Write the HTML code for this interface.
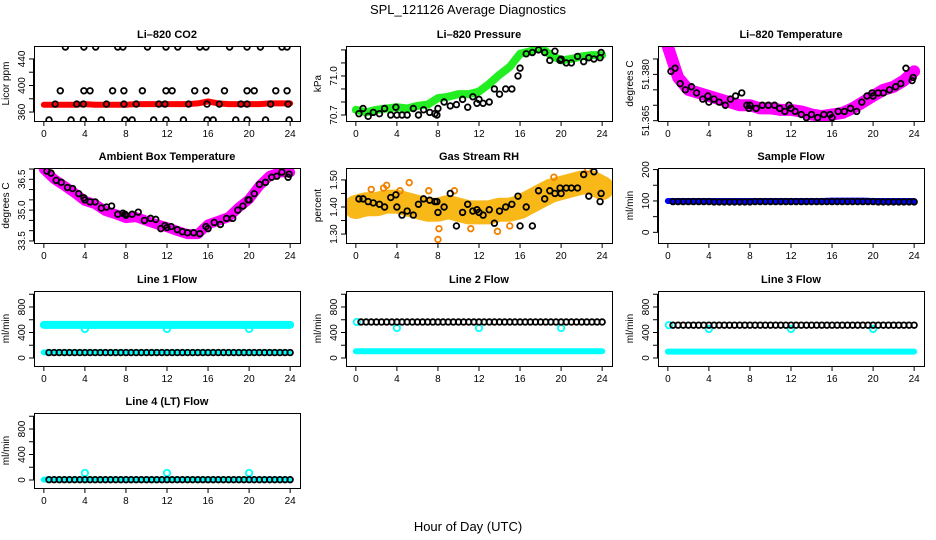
<!DOCTYPE html>
<html><head><meta charset="utf-8"><style>
html,body{margin:0;padding:0;background:#fff;}
svg{display:block;font-family:"Liberation Sans",sans-serif;}
</style></head><body>
<svg id="chart" width="936" height="540" viewBox="0 0 936 540" xmlns="http://www.w3.org/2000/svg">
<text x="468" y="14" text-anchor="middle" font-size="13">SPL_121126  Average Diagnostics</text>
<text x="468" y="531" text-anchor="middle" font-size="13">Hour of Day (UTC)</text>
</svg>
<script>
const hourly = [0,1,2,3,4,5,6,7,8,9,10,11,12,13,14,15,16,17,18,19,20,21,22,23,24];
const halfHours = [0.5,1,1.5,2,2.5,3,3.5,4,4.5,5,5.5,6,6.5,7,7.5,8,8.5,9,9.5,10,10.5,11,11.5,12,12.5,13,13.5,14,14.5,15,15.5,16,16.5,17,17.5,18,18.5,19,19.5,20,20.5,21,21.5,22,22.5,23,23.5,24];
const ptHours = [0.3,0.7,1.2,1.7,2.3,2.8,3.4,3.9,4.0,4.5,5.0,5.6,6.1,6.6,7.2,7.7,7.9,8.0,8.6,9.2,9.8,10.4,10.9,11.4,11.8,12.0,12.4,13.0,13.5,14.0,14.6,15.2,15.8,16.0,16.6,17.2,17.8,18.4,18.9,19.4,19.9,20.0,20.5,21.0,21.6,22.2,22.7,23.2,23.8,23.9];
const xTicks = [0,4,8,12,16,20,24];

const co2Band = [371,371,371,371,372,371,371,371,371,372,372,372,372,372,372,373,376,373,372,372,372,372,373,373,373];
const co2PtX = [2.1,3.9,5.05,7.2,7.7,10.1,11.9,13.05,15.2,15.8,18.1,19.8,21.1,23.2,23.7,
 1.6,3.9,4.5,6.7,7.8,9.6,11.9,12.5,14.7,15.8,17.6,19.8,20.5,22.6,23.7,
 1.1,3.2,3.85,6.1,7.8,9.0,11.2,11.8,14.1,15.9,17.1,19.2,19.8,22.1,23.8,
 0.5,2.65,3.85,5.6,7.9,8.6,10.7,11.9,13.6,15.9,16.5,18.7,19.8,21.6,23.9];
const co2PtY = [458,458,458,458,458,458,458,458,458,458,458,458,458,458,458,
 392,392,392,392,392,392,392,392,392,392,392,392,392,392,392,
 372,372,372,372,372,372,372,372,372,372,372,372,372,372,372,
 348,348,348,348,348,348,348,348,348,348,348,348,348,348,348];

const pressBand = [70.74,70.72,70.74,70.75,70.76,70.75,70.77,70.78,70.83,70.84,70.86,70.86,70.88,70.94,71.01,71.07,71.17,71.19,71.22,71.16,71.12,71.13,71.15,71.16,71.16];
const pressPts = [70.71,70.75,70.69,70.72,70.71,70.75,70.70,70.76,70.70,70.70,70.70,70.75,70.70,70.74,70.72,70.71,70.70,70.75,70.80,70.77,70.78,70.82,70.76,70.84,70.79,70.82,70.79,70.80,70.90,70.86,70.90,70.90,71.00,71.06,71.17,71.18,71.20,71.18,71.12,71.19,71.12,71.13,71.10,71.10,71.15,71.11,71.14,71.13,71.14,71.18];

const liTempBand = [51.389,51.379,51.375,51.374,51.373,51.372,51.371,51.370,51.370,51.369,51.369,51.3685,51.3685,51.368,51.367,51.3665,51.367,51.3675,51.369,51.371,51.373,51.375,51.376,51.378,51.381];
const liTempPts = [51.381,51.382,51.377,51.375,51.376,51.374,51.372,51.373,51.371,51.372,51.371,51.370,51.372,51.373,51.374,51.370,51.369,51.370,51.369,51.370,51.370,51.370,51.369,51.368,51.370,51.369,51.368,51.367,51.366,51.367,51.366,51.367,51.367,51.366,51.368,51.368,51.369,51.368,51.371,51.373,51.374,51.373,51.374,51.374,51.375,51.376,51.377,51.382,51.378,51.379];

const ambBand = [36.99,36.51,36.18,35.83,35.45,35.29,34.96,34.80,34.61,34.66,34.48,34.31,34.17,33.99,33.83,33.83,34.31,34.48,34.66,35.13,35.53,36.18,36.67,36.84,36.84];
const ambPts = [36.9,36.8,36.45,36.35,36.1,36.05,35.8,35.6,35.5,35.4,35.4,35.1,35.15,35.2,34.8,34.85,34.8,34.75,34.8,34.9,34.5,34.6,34.55,34.1,34.25,34.15,34.2,34.05,33.95,33.9,33.9,33.85,34.2,34.1,34.4,34.3,34.6,34.6,35.0,35.2,35.5,35.5,35.8,36.25,36.35,36.6,36.65,36.85,36.6,36.75];

const rhBand = [1.40,1.41,1.41,1.42,1.42,1.41,1.40,1.39,1.39,1.40,1.39,1.38,1.38,1.38,1.39,1.39,1.40,1.42,1.44,1.46,1.47,1.48,1.49,1.49,1.47];
const rhPts = [1.43,1.43,1.42,1.415,1.41,1.40,1.435,1.445,1.40,1.37,1.385,1.37,1.41,1.43,1.425,1.42,1.42,1.38,1.40,1.45,1.33,1.38,1.41,1.385,1.39,1.38,1.37,1.39,1.34,1.385,1.40,1.41,1.44,1.33,1.40,1.33,1.46,1.43,1.46,1.45,1.47,1.45,1.47,1.47,1.47,1.52,1.44,1.53,1.42,1.45];
const rhOutX = [1.5,3.0,5.2,8.0,8.1,9.6,13.8,7.1,2.7,19.3,22.6,4.3,15.0,11.2];
const rhOutY = [1.465,1.48,1.49,1.28,1.32,1.46,1.31,1.46,1.47,1.51,1.54,1.46,1.33,1.32];

const sampleBand = [100,100,100,100,100,100,100,100,100,100,100,100,100,100,100,100,101,101,101,101,100,100,100,100,100];
const samplePts = [98,98,98,98,98,98,98,98,97,97,97,97,97,97,97,97,98,98,98,98,98,98,98,98,98,98,98,98,98,98,98,98,98,98,98,98,98,98,98,98,97,97,97,97,97,97,97,97];

const dipHours = [4,12,20];
const line1Hi = [520,520,520,520,520,520,520,520,520,520,520,520,520,520,520,520,520,520,520,520,520,520,520,520,520];
const line1Lo = [88,88,88,88,88,88,88,88,88,88,88,88,88,88,88,88,88,88,88,88,88,88,88,88,88];
const line1Pts = [85,85,85,85,85,85,85,85,85,85,85,85,85,85,85,85,85,85,85,85,85,85,85,85,85,85,85,85,85,85,85,85,85,85,85,85,85,85,85,85,85,85,85,85,85,85,85,85];
const line1Dip = [455,455,455];
const line2Lo = [105,105,105,105,105,105,105,105,105,105,105,105,105,105,105,105,105,105,105,105,105,105,105,105,105];
const line2Pts = [565,565,565,565,565,565,565,565,565,565,565,565,565,565,565,565,565,565,565,565,565,565,565,565,565,565,565,565,565,565,565,565,565,565,565,565,565,565,565,565,565,565,565,565,565,565,565,565];
const line2Dip = [470,470,470];
const line3Lo = [100,100,100,100,100,100,100,100,100,100,100,100,100,100,100,100,100,100,100,100,100,100,100,100,100];
const line3Pts = [515,515,515,515,515,515,515,515,515,515,515,515,515,515,515,515,515,515,515,515,515,515,515,515,515,515,515,515,515,515,515,515,515,515,515,515,515,515,515,515,515,515,515,515,515,515,515,515];
const line3Dip = [455,455,455];
const line4Lo = [5,5,5,5,5,5,5,5,5,5,5,5,5,5,5,5,5,5,5,5,5,5,5,5,5];
const line4Pts = [5,5,5,5,5,5,5,5,5,5,5,5,5,5,5,5,5,5,5,5,5,5,5,5,5,5,5,5,5,5,5,5,5,5,5,5,5,5,5,5,5,5,5,5,5,5,5,5];
const line4Dip = [110,110,110];

const NS = 'http://www.w3.org/2000/svg';
const svg = document.getElementById('chart');
const colL = [34,346,658], rowT = [46,168,291,413], W = 266, H = 75;

function mk(tag, attrs, parent){
  const e = document.createElementNS(NS, tag);
  for (const k in attrs) e.setAttribute(k, attrs[k]);
  parent.appendChild(e);
  return e;
}

function panel(key, col, row, title, ylab, ymin, ymax, ticks, labels){
  const L = colL[col], T = rowT[row];
  const g = mk('g', {}, svg);
  
  
  const sx = h => L + (h + 0.96) / 25.92 * W;
  const sy = v => T + H - (v - ymin) / (ymax - ymin) * H;
  const t = mk('text', {x: L + W/2, y: T - 8, 'text-anchor':'middle', 'font-size':11, 'font-weight':'bold'}, g);
  t.textContent = title;
  
  
  const yl = mk('text', {transform:`translate(${L-25},${T+H/2}) rotate(-90)`, 'text-anchor':'middle', 'font-size':10}, g);
  yl.textContent = ylab;
  
  
  const xa = mk('g', {stroke:'#000', 'stroke-width':1}, g);
  
  
  mk('line', {x1:sx(0), x2:sx(24), y1:T+H+0.5, y2:T+H+0.5}, xa);
  xTicks.forEach(h => {
    mk('line', {x1:sx(h), x2:sx(h), y1:T+H, y2:T+H+5}, xa);
    const lb = mk('text', {x:sx(h), y:T+H+16, 'text-anchor':'middle', 'font-size':10, stroke:'none'}, xa);
    lb.textContent = h;
    
    
  });
  const ya = mk('g', {stroke:'#000', 'stroke-width':1}, g);
  
  
  mk('line', {x1:L-0.5, x2:L-0.5, y1:sy(ticks[0]), y2:sy(ticks[ticks.length-1])}, ya);
  ticks.forEach(v => mk('line', {x1:L-5, x2:L, y1:sy(v), y2:sy(v)}, ya));
  labels.forEach(([v, s]) => {
    const lb = mk('text', {transform:`translate(${L-9},${sy(v)}) rotate(-90)`, 'text-anchor':'middle', 'font-size':10, stroke:'none'}, ya);
    lb.textContent = s;
    
    
  });
  const clip = mk('clipPath', {id:'clip-' + key}, g);
  mk('rect', {x:L, y:T, width:W, height:H}, clip);
  const plot = mk('g', {'clip-path':`url(#clip-${key})`}, g);
  
  
  return {g, plot, sx, sy, L, T};
}

function band(p, xs, ys, color, width, name){
  const pts = xs.map((h, i) => p.sx(h) + ',' + p.sy(ys[i])).join(' ');
  const pl = mk('polyline', {points:pts, fill:'none', stroke:color, 'stroke-width':width, 'stroke-linejoin':'round', 'stroke-linecap':'round'}, p.plot);
  
  
}

function points(p, xs, ys, color, name, r){
  const gg = mk('g', {fill:'none', stroke:color, 'stroke-width':1.8}, p.plot);
  
  
  xs.forEach((h, i) => {
    if (ys[i] === undefined) return;
    const c = mk('circle', {cx:p.sx(h), cy:p.sy(ys[i]), r:r || 2.8}, gg);
    
    
  });
}

function box(p){
  const b = mk('rect', {x:p.L + 0.5, y:p.T + 0.5, width:W, height:H, fill:'none', stroke:'#000', 'stroke-width':1}, p.g);
  
  
}

let p = panel('li820-co2', 0, 0, 'Li\u2013820 CO2', 'Licor ppm', 346.5, 459.5, [360,380,400,420,440], [[360,'360'],[400,'400'],[440,'440']]);
band(p, hourly, co2Band, '#ff0000', 6, 'co2-series');
points(p, co2PtX, co2PtY, '#000', 'co2-average');
box(p);

p = panel('li820-pressure', 1, 0, 'Li\u2013820 Pressure', 'kPa', 70.654, 71.23, [70.7,70.8,70.9,71.0,71.1,71.2], [[70.7,'70.7'],[71.0,'71.0']]);
band(p, hourly, pressBand, '#22ee22', 8, 'pressure-series');
points(p, ptHours, pressPts, '#000', 'pressure-average');
box(p);

p = panel('li820-temperature', 2, 0, 'Li\u2013820 Temperature', 'degrees C', 51.3649, 51.3892, [51.365,51.370,51.375,51.380,51.385], [[51.365,'51.365'],[51.380,'51.380']]);
band(p, hourly, liTempBand, '#ff00ff', 12, 'li820-temperature-series');
points(p, ptHours, liTempPts, '#000', 'li820-temperature-average');
box(p);

p = panel('ambient-box-temperature', 0, 1, 'Ambient Box Temperature', 'degrees C', 33.4, 37.05, [33.5,34,34.5,35,35.5,36,36.5,37], [[33.5,'33.5'],[35,'35.0'],[36.5,'36.5']]);
band(p, hourly, ambBand, '#ff00ff', 10, 'ambient-temperature-series');
points(p, ptHours, ambPts, '#000', 'ambient-temperature-average');
box(p);

p = panel('gas-stream-rh', 1, 1, 'Gas Stream RH', 'percent', 1.267, 1.544, [1.30,1.35,1.40,1.45,1.50], [[1.30,'1.30'],[1.40,'1.40'],[1.50,'1.50']]);
band(p, hourly, rhBand, '#f8b818', 24, 'rh-series');
points(p, rhOutX, rhOutY, '#f08000', 'rh-outliers');
points(p, ptHours, rhPts, '#000', 'rh-average');
box(p);

p = panel('sample-flow', 2, 1, 'Sample Flow', 'ml/min', -34, 205, [0,50,100,150,200], [[0,'0'],[100,'100'],[200,'200']]);
band(p, hourly, sampleBand, '#0000ff', 6, 'sample-flow-series');
points(p, halfHours, samplePts, '#000', 'sample-flow-average');
box(p);

const fT = [0,200,400,600,800,1000], fL = [[0,'0'],[400,'400'],[800,'800']];
p = panel('line-1-flow', 0, 2, 'Line 1 Flow', 'ml/min', -125.5, 1051, fT, fL);
band(p, hourly, line1Hi, '#00ffff', 8, 'line-1-high-series');
band(p, hourly, line1Lo, '#00ffff', 6, 'line-1-low-series');
points(p, dipHours, line1Dip, '#00ffff', 'line-1-dips', 3.2);
points(p, halfHours, line1Pts, '#000', 'line-1-average');
box(p);

p = panel('line-2-flow', 1, 2, 'Line 2 Flow', 'ml/min', -125.5, 1051, fT, fL);
band(p, hourly, line2Lo, '#00ffff', 6, 'line-2-low-series');
points(p, [0.1], [565], '#00ffff', 'line-2-start', 3.2);
points(p, dipHours, line2Dip, '#00ffff', 'line-2-dips', 3.2);
points(p, halfHours, line2Pts, '#000', 'line-2-average');
box(p);

p = panel('line-3-flow', 2, 2, 'Line 3 Flow', 'ml/min', -125.5, 1051, fT, fL);
band(p, hourly, line3Lo, '#00ffff', 6, 'line-3-low-series');
points(p, [0.1], [515], '#00ffff', 'line-3-start', 3.2);
points(p, dipHours, line3Dip, '#00ffff', 'line-3-dips', 3.2);
points(p, halfHours, line3Pts, '#000', 'line-3-average');
box(p);

p = panel('line-4-flow', 0, 3, 'Line 4 (LT) Flow', 'ml/min', -125.5, 1051, fT, fL);
band(p, hourly, line4Lo, '#00ffff', 6, 'line-4-low-series');
points(p, dipHours, line4Dip, '#00ffff', 'line-4-spikes', 3.2);
points(p, halfHours, line4Pts, '#000', 'line-4-average');
box(p);
</script>
</body></html>
